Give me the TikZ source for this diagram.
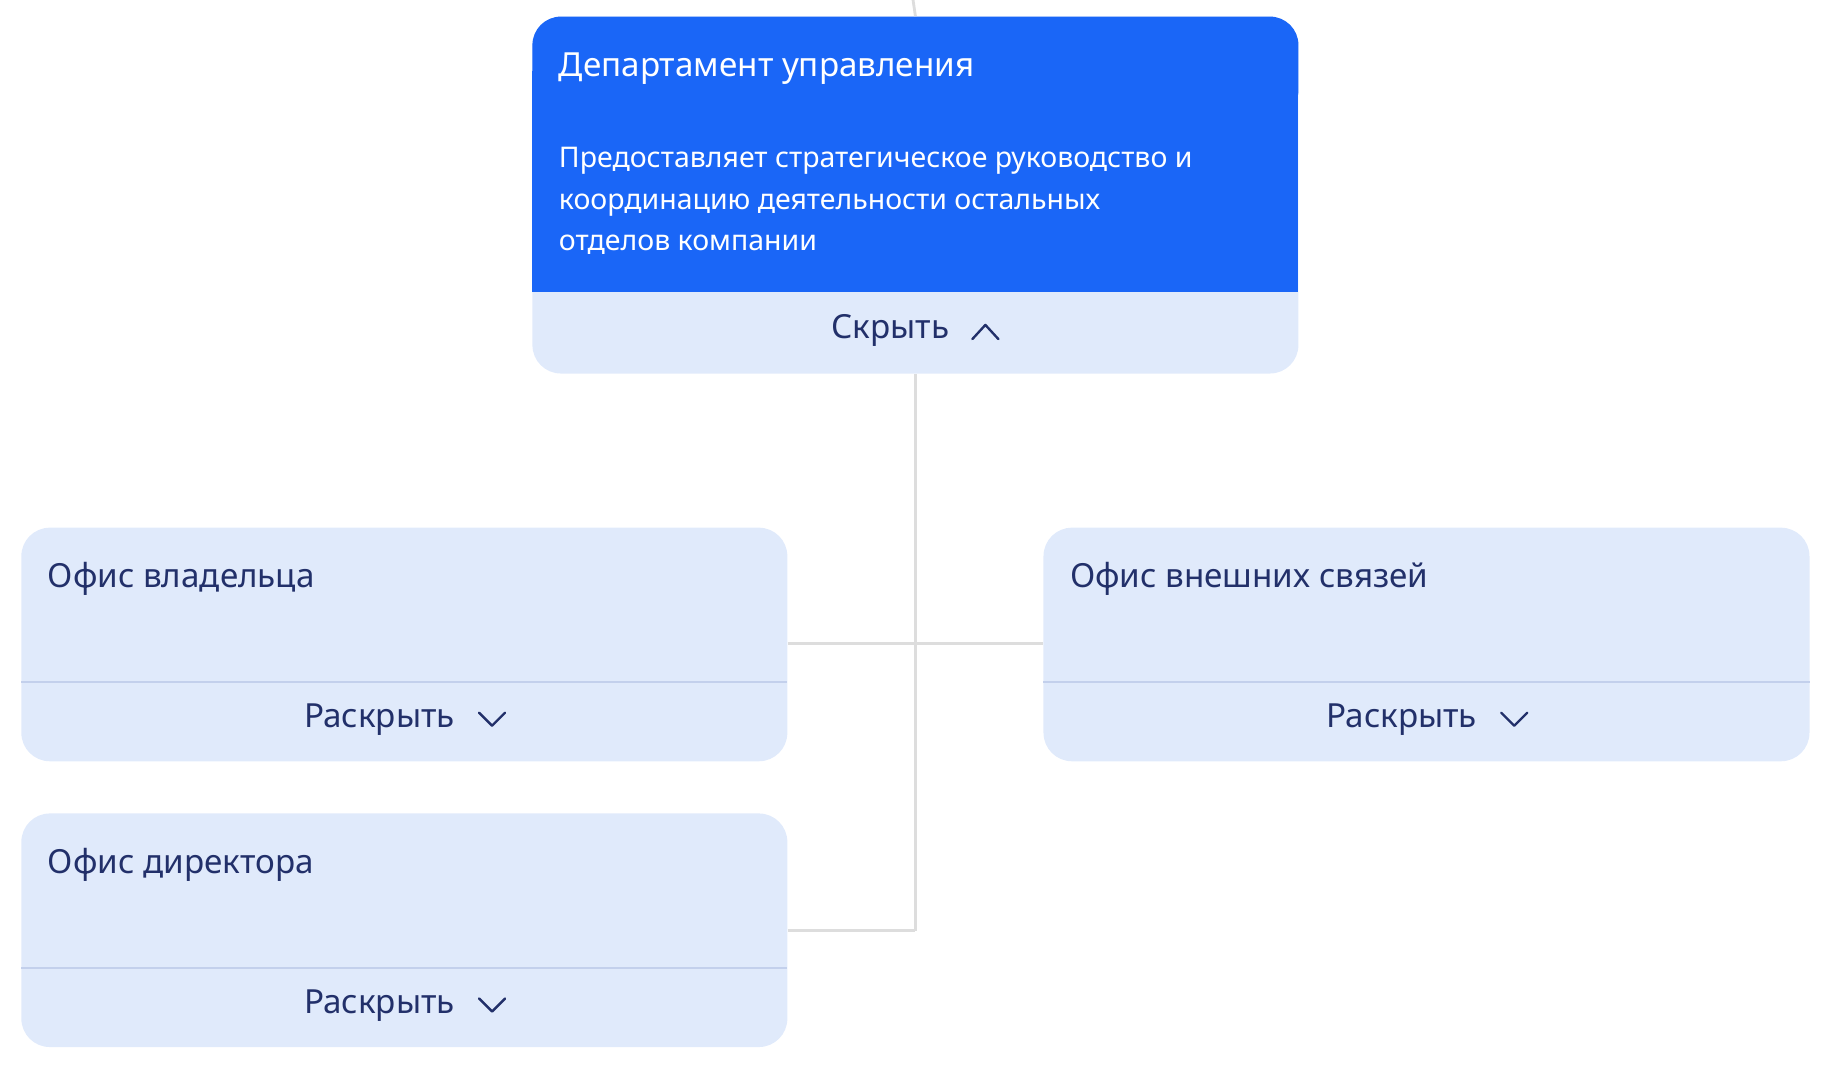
\documentclass[tikz,border=0pt]{standalone}
\usepackage{fontspec}
\setmainfont{Noto Sans}
\definecolor{bluebg}{HTML}{1A66F7}
\definecolor{lightbg}{HTML}{E0EAFB}
\definecolor{divc}{HTML}{C3D0EC}
\definecolor{darktxt}{HTML}{22306A}
\definecolor{linec}{HTML}{DDDDDD}
\begin{document}
\begin{tikzpicture}[x=0.5pt,y=-0.5pt,
  conn/.style={draw=linec,line width=1.2pt},
  ttl/.style={anchor=west,font=\fontsize{14}{17}\selectfont\bfseries,text=darktxt,inner sep=0},
  btn/.style={anchor=center,font=\fontsize{14}{17}\selectfont,text=darktxt,inner sep=0},
  chev/.style={draw=darktxt,line width=1pt,line cap=round,line join=round}]
\useasboundingbox (0,0) rectangle (1545,905.7);
% connectors
\coordinate (topin) at (770,0);
\coordinate (j1) at (772,543);
\coordinate (j2) at (772,785);
% top box
\fill[lightbg,rounded corners=12] (449,14) rectangle (1095,315);
\fill[bluebg,rounded corners=12] (449,14) rectangle (1095,100);
\fill[bluebg] (449,60) rectangle (1095,246);
\node[ttl,text=white] (t0) at (471,58) {Департамент управления};
\node[anchor=north west,inner sep=0,text=white,align=left,font=\fontsize{12}{17.5}\selectfont] (d0) at (471,124) {Предоставляет стратегическое руководство и\\координацию деятельности остальных\\отделов компании};
\node[btn] (b0) at (751,279) {Скрыть};
\draw[chev] (820,286) -- (831,274) -- (842,286);
\node[inner sep=0,minimum width=646*0.5pt,minimum height=301*0.5pt] (top) at (772,164.5) {};
% boxes
\foreach \n/\x/\y/\t in {own/18/445/Офис владельца, ext/880/445/Офис внешних связей, dir/18/686/Офис директора}{
  \fill[lightbg,rounded corners=12] (\x,\y) rectangle ++(646,197);
  \draw[divc,line width=0.8pt] (\x,\y+130) -- ++(646,0);
  \node[ttl] at (\x+22,\y+43) {\t};
  \node[btn] at (\x+302,\y+162) {Раскрыть};
  \draw[chev] (\x+386,\y+156) -- (\x+397,\y+167) -- (\x+408,\y+156);
  \node[inner sep=0,minimum width=323pt,minimum height=98.5pt] (\n) at (\x+323,\y+98.5) {};
}
\draw[conn] (topin) -- (top.north);
\draw[conn] (top.south) -- (j2);
\draw[conn] (own.east |- j1) -- (ext.west |- j1);
\draw[conn] (dir.east |- j2) -- (j2);
\end{tikzpicture}
\end{document}
